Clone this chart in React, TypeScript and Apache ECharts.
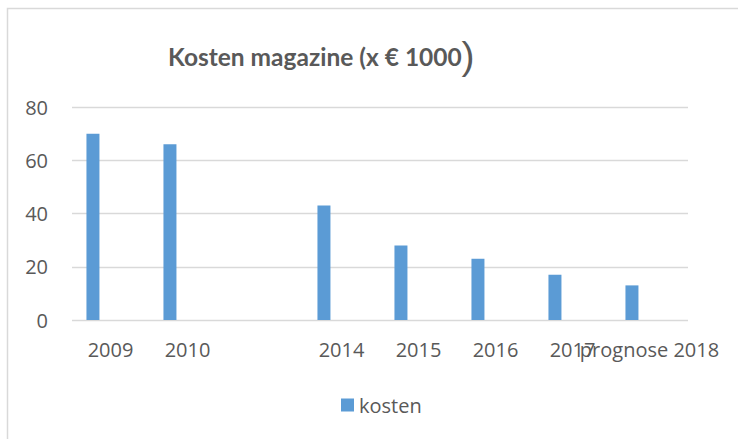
import React, { useEffect, useRef } from "react";
import * as echarts from "echarts";

const categories = ["2009", "2010", "", "2014", "2015", "2016", "2017", "prognose 2018"];
const kosten = [70, 66, null, 43, 28, 23, 17, 13];
const spacer = [null, null, null, null, null, null, null, null];
const yTicks = { min: 0, max: 80, interval: 20 };
const titleText = "Kosten magazine (x € 1000";
const titleClose = ")";

export default function App() {
  const ref = useRef<HTMLDivElement>(null);
  useEffect(() => {
    if (!ref.current) return;
    const chart = echarts.init(ref.current, null, { renderer: "svg" });
    const font = "'Open Sans', sans-serif";
    chart.setOption({
      animation: false,
      backgroundColor: "#ffffff",
      textStyle: { fontFamily: font },
      graphic: [
        {
          type: "rect",
          shape: { x: 7.5, y: 8.5, width: 800, height: 500 },
          style: { fill: "none", stroke: "#d9d9d9", lineWidth: 1.5 },
          silent: true,
        },
        {
          type: "text",
          x: 168,
          y: 56.5,
          style: {
            text: titleText,
            font: "bold 24.5px Lato, sans-serif",
            fill: "#595959",
            align: "left",
            verticalAlign: "middle",
          },
          silent: true,
        },
        {
          type: "text",
          x: 468,
          y: 55,
          style: {
            text: titleClose,
            font: "normal 39px 'Liberation Sans', sans-serif",
            fill: "#595959",
            align: "center",
            verticalAlign: "middle",
          },
          silent: true,
        },
      ],
      legend: {
        data: ["kosten"],
        left: 336,
        top: 390,
        itemWidth: 13,
        itemHeight: 13,
        icon: "rect",
        textStyle: { fontFamily: font, fontSize: 20, color: "#595959" },
      },
      grid: { left: 72, right: 50, top: 107, bottom: 119, containLabel: false },
      xAxis: {
        type: "category",
        data: categories,
        axisLine: { show: false },
        axisTick: { show: false },
        axisLabel: { interval: 0, fontFamily: font, fontSize: 20, color: "#595959", margin: 19 },
      },
      yAxis: {
        type: "value",
        min: yTicks.min,
        max: yTicks.max,
        interval: yTicks.interval,
        axisLine: { show: false },
        axisTick: { show: false },
        axisLabel: { fontFamily: font, fontSize: 20, color: "#595959", margin: 24 },
        splitLine: { lineStyle: { color: "#d9d9d9", width: 1.3 } },
      },
      series: [
        {
          name: "kosten",
          type: "bar",
          data: kosten,
          barWidth: 13,
          barGap: "170%",
          itemStyle: { color: "#5b9bd5" },
        },
        {
          name: "spacer",
          type: "bar",
          data: spacer,
          barWidth: 13,
          itemStyle: { color: "#ed7d31" },
        },
      ],
    });
    return () => chart.dispose();
  }, []);
  return <div ref={ref} style={{ position: "fixed", left: 0, top: 0, width: 738, height: 439 }} />;
}
